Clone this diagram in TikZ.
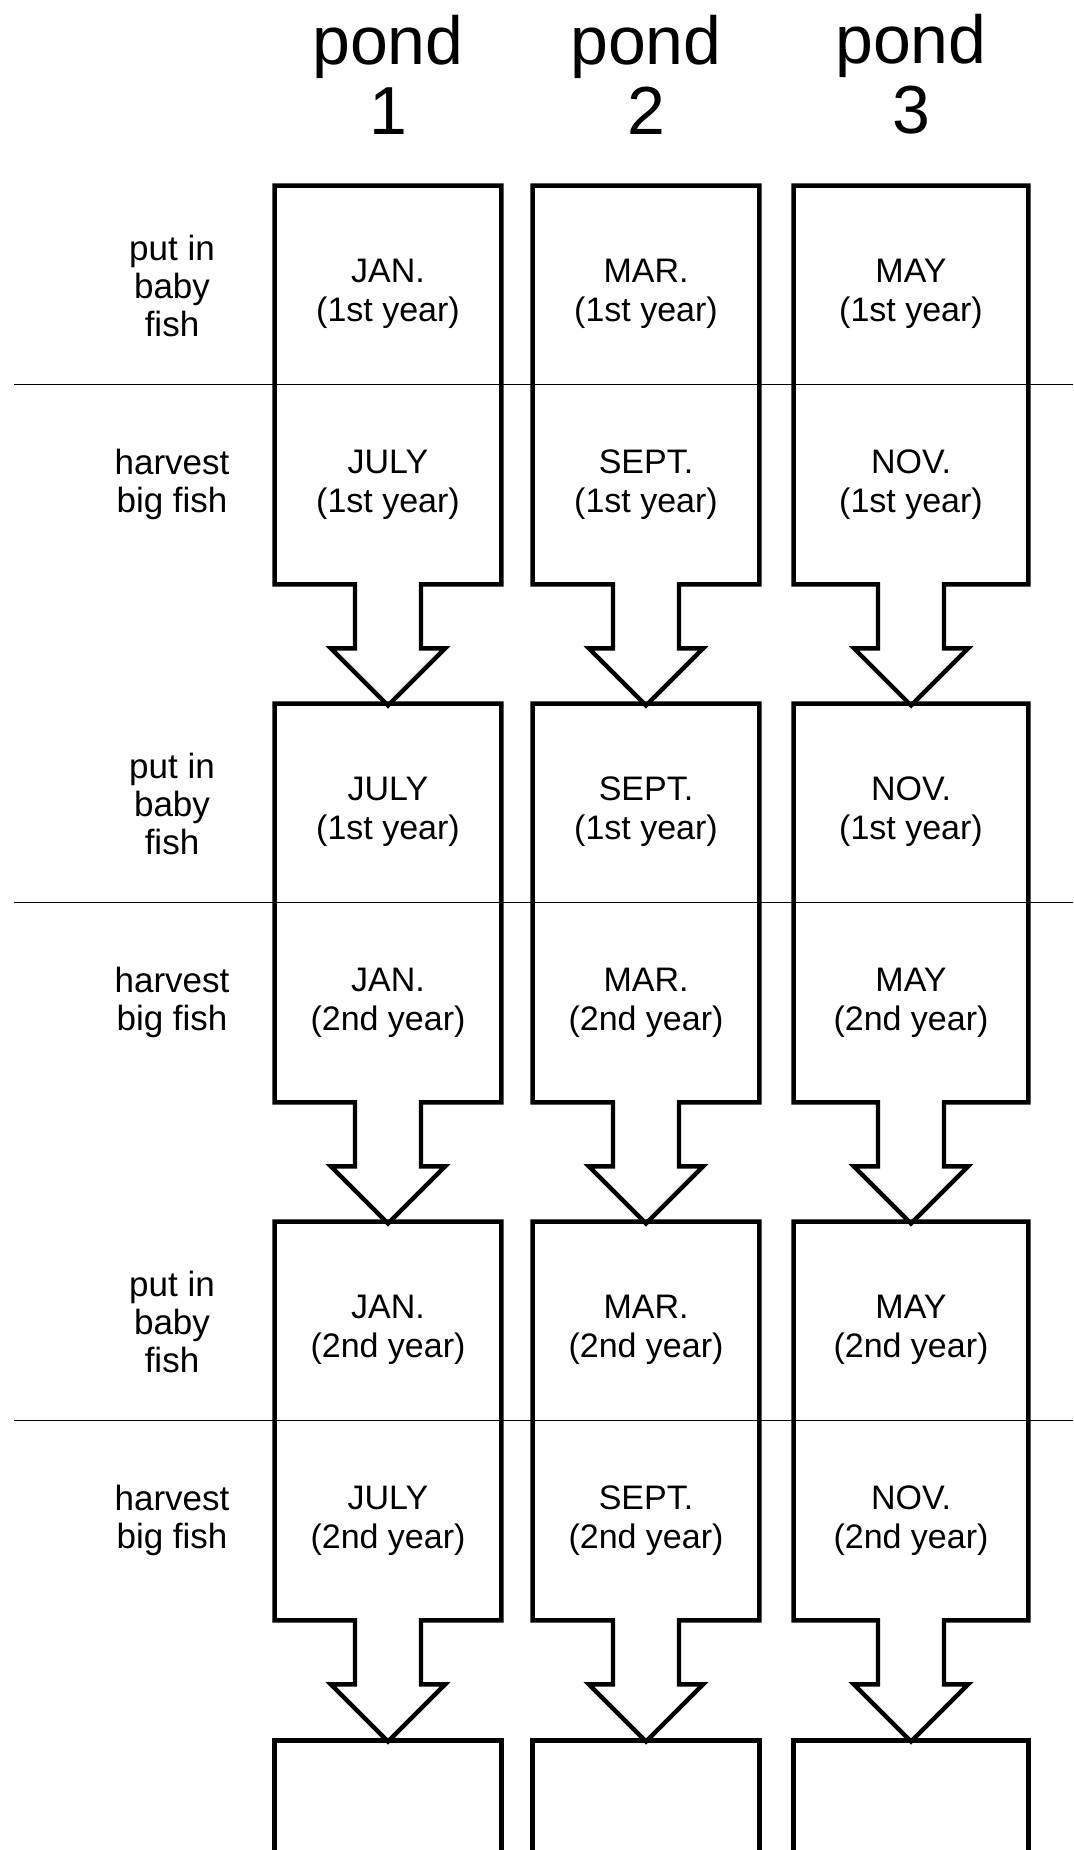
\documentclass[tikz,border=0pt]{standalone}
\usepackage{fontspec}
\setmainfont{Liberation Sans}
\usetikzlibrary{positioning}

\begin{document}
\begin{tikzpicture}[node distance=259pt, line join=miter]
  % Styles
  \tikzstyle{celltext} = [align=center, inner sep=0pt, font=\fontsize{17}{19.5}\selectfont]
  \tikzstyle{cell} = [celltext, rectangle, minimum width=113pt, minimum height=99.5pt]
  \tikzstyle{wide} = [cell, minimum width=117pt]
  \tikzstyle{head} = [align=center, inner sep=0pt, font=\fontsize{34}{35}\selectfont]
  \tikzstyle{rowlabel} = [align=center, inner sep=0pt, font=\fontsize{17.5}{19}\selectfont]
  \tikzstyle{outline} = [line width=2.2pt]
  \tikzstyle{divider} = [line width=0.8pt]
  \tikzstyle{spout} = [insert path={-- ++(0,-32pt) -- ++(12pt,0) -- ++(-28.5pt,-28.5pt) -- ++(-28.5pt,28.5pt) -- ++(12pt,0) -- ++(0,32pt)}]

  \useasboundingbox (0,0) rectangle (536.5pt,-925pt);
  \clip (0,0) rectangle (536.5pt,-925pt);
  \coordinate (lmarg) at (7pt,0);
  \coordinate (rmarg) at (536.5pt,0);

  % Harvest cells
  \node [cell] (out11) at (194pt,-242.25pt) {JULY\\(1st year)};
  \node [cell, right of=out11, node distance=129pt] (out12) {SEPT.\\(1st year)};
  \node [wide, right of=out12, node distance=132.5pt] (out13) {NOV.\\(1st year)};
  \node [cell, below of=out11] (out21) {JAN.\\(2nd year)};
  \node [cell, below of=out12] (out22) {MAR.\\(2nd year)};
  \node [wide, below of=out13] (out23) {MAY\\(2nd year)};
  \node [cell, below of=out21] (out31) {JULY\\(2nd year)};
  \node [cell, below of=out22] (out32) {SEPT.\\(2nd year)};
  \node [wide, below of=out23] (out33) {NOV.\\(2nd year)};
  \node [cell, below of=out31, node distance=160pt] (end1) {};
  \node [cell, below of=out32, node distance=160pt] (end2) {};
  \node [wide, below of=out33, node distance=160pt] (end3) {};

  % Put-in cells
  \node [celltext, above of=out11, node distance=95.5pt] (in11) {JAN.\\(1st year)};
  \node [celltext, above of=out12, node distance=95.5pt] (in12) {MAR.\\(1st year)};
  \node [celltext, above of=out13, node distance=95.5pt] (in13) {MAY\\(1st year)};
  \node [celltext, above of=out21, node distance=95.5pt] (in21) {JULY\\(1st year)};
  \node [celltext, above of=out22, node distance=95.5pt] (in22) {SEPT.\\(1st year)};
  \node [celltext, above of=out23, node distance=95.5pt] (in23) {NOV.\\(1st year)};
  \node [celltext, above of=out31, node distance=95.5pt] (in31) {JAN.\\(2nd year)};
  \node [celltext, above of=out32, node distance=95.5pt] (in32) {MAR.\\(2nd year)};
  \node [celltext, above of=out33, node distance=95.5pt] (in33) {MAY\\(2nd year)};

  % Headers and row labels
  \node [head, above of=out11, node distance=205pt] (pond1) {pond\\1};
  \node [head, above of=out12, node distance=205pt] (pond2) {pond\\2};
  \node [head, above of=out13, node distance=205pt] (pond3) {pond\\3};
  \node [rowlabel, left of=out11, node distance=108pt] (harvest1) {harvest\\big fish};
  \node [rowlabel, left of=out21, node distance=108pt] (harvest2) {harvest\\big fish};
  \node [rowlabel, left of=out31, node distance=108pt] (harvest3) {harvest\\big fish};
  \node [rowlabel, above of=harvest1, node distance=99.5pt] (putin1) {put in\\baby\\fish};
  \node [rowlabel, above of=harvest2, node distance=99.5pt] (putin2) {put in\\baby\\fish};
  \node [rowlabel, above of=harvest3, node distance=99.5pt] (putin3) {put in\\baby\\fish};

  % Dividers
  \draw [divider] (out11.north -| lmarg) -- (out11.north -| rmarg);
  \draw [divider] (out21.north -| lmarg) -- (out21.north -| rmarg);
  \draw [divider] (out31.north -| lmarg) -- (out31.north -| rmarg);

  % Boxes with arrows
  \draw [outline] (out11.north west) -- ++(0,99.5pt) -| (out11.south east) -- ([xshift=16.5pt]out11.south) [spout] -- (out11.south west) -- cycle;
  \draw [outline] (out12.north west) -- ++(0,99.5pt) -| (out12.south east) -- ([xshift=16.5pt]out12.south) [spout] -- (out12.south west) -- cycle;
  \draw [outline] (out13.north west) -- ++(0,99.5pt) -| (out13.south east) -- ([xshift=16.5pt]out13.south) [spout] -- (out13.south west) -- cycle;
  \draw [outline] (out21.north west) -- ++(0,99.5pt) -| (out21.south east) -- ([xshift=16.5pt]out21.south) [spout] -- (out21.south west) -- cycle;
  \draw [outline] (out22.north west) -- ++(0,99.5pt) -| (out22.south east) -- ([xshift=16.5pt]out22.south) [spout] -- (out22.south west) -- cycle;
  \draw [outline] (out23.north west) -- ++(0,99.5pt) -| (out23.south east) -- ([xshift=16.5pt]out23.south) [spout] -- (out23.south west) -- cycle;
  \draw [outline] (out31.north west) -- ++(0,99.5pt) -| (out31.south east) -- ([xshift=16.5pt]out31.south) [spout] -- (out31.south west) -- cycle;
  \draw [outline] (out32.north west) -- ++(0,99.5pt) -| (out32.south east) -- ([xshift=16.5pt]out32.south) [spout] -- (out32.south west) -- cycle;
  \draw [outline] (out33.north west) -- ++(0,99.5pt) -| (out33.south east) -- ([xshift=16.5pt]out33.south) [spout] -- (out33.south west) -- cycle;
  \draw [outline] (end1.south west) |- (end1.north east) -- (end1.south east);
  \draw [outline] (end2.south west) |- (end2.north east) -- (end2.south east);
  \draw [outline] (end3.south west) |- (end3.north east) -- (end3.south east);

\end{tikzpicture}
\end{document}
